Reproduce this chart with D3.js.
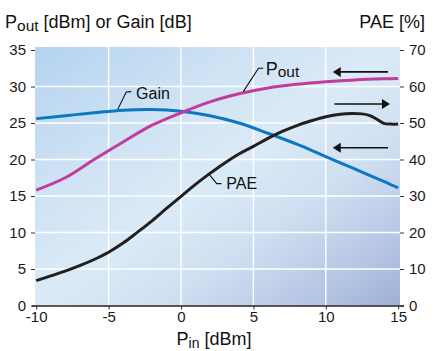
<!DOCTYPE html>
<html><head><meta charset="utf-8">
<script src="https://cdn.jsdelivr.net/npm/d3@7"></script>
<style>
html,body{margin:0;padding:0;background:#fff;}
svg{display:block;font-family:"Liberation Sans",Arial,Helvetica,sans-serif;}
</style></head>
<body>
<svg id="c" width="438" height="351"></svg>
<script>
// ---- data ----
const xTicks = [-10, -5, 0, 5, 10, 15];
const yLeftTicks = [0, 5, 10, 15, 20, 25, 30, 35];
const yRightTicks = [0, 10, 20, 30, 40, 50, 60, 70];
const gainX = [-10, -8, -6, -4, -2, 0, 2, 4, 6, 8, 10, 12, 14, 15];
const gainY = [25.6, 26.0, 26.4, 26.75, 26.85, 26.6, 26.0, 25.0, 23.6, 22.1, 20.4, 18.7, 17.0, 16.1];
const poutX = [-10, -8, -6, -4, -2, 0, 2, 4, 6, 8, 10, 12, 14, 15];
const poutY = [15.8, 17.5, 20.0, 22.4, 24.7, 26.4, 27.9, 29.0, 29.8, 30.3, 30.65, 30.9, 31.05, 31.1];
const paeX = [-10, -9, -8, -7, -6, -5, -4, -3, -2, -1, 0, 1, 2, 3, 4, 5, 6, 7, 8, 9, 10, 11, 11.8, 12.5, 13, 13.5, 14, 14.5, 15];
const paeY = [6.8, 8.1, 9.4, 10.9, 12.6, 14.6, 17.1, 20.1, 23.2, 26.6, 29.9, 33.2, 36.2, 39.0, 41.5, 43.6, 45.8, 47.7, 49.3, 50.6, 51.7, 52.4, 52.6, 52.5, 52.1, 51.1, 49.9, 49.7, 49.7];

const svg = d3.select('#c');
const x = d3.scaleLinear().domain([-10, 15]).range([36.2, 398.2]);
const yL = d3.scaleLinear().domain([0, 35]).range([305.5, 50]);
const yR = d3.scaleLinear().domain([0, 70]).range([305.5, 50]);

const pLeft = x(-10) - 1.2, pRight = x(15) + 1.8, pTop = yL(35) - 3, pBottom = yL(0);

// gradient background
const defs = svg.append('defs');
const g = defs.append('linearGradient').attr('id', 'bg')
  .attr('x1', '0%').attr('y1', '0%').attr('x2', '100%').attr('y2', '100%');
[[0, '#b4d3ef'], [0.3, '#cfe3f4'], [0.5, '#dbeaf7'], [0.68, '#cedff1'], [0.85, '#b8c8e5'], [1, '#9fb0d6']]
  .forEach(([o, c]) => g.append('stop').attr('offset', o).attr('stop-color', c));
svg.append('rect').attr('x', pLeft).attr('y', pTop).attr('width', pRight - pLeft).attr('height', pBottom - pTop)
  .attr('fill', 'url(#bg)');

// grid
svg.append('g').selectAll('line').data(yLeftTicks.filter(d => d > 0 && d < 35)).join('line')
  .attr('x1', pLeft).attr('x2', pRight).attr('y1', d => yL(d)).attr('y2', d => yL(d))
  .attr('stroke', '#fff').attr('stroke-width', 1.4);
svg.append('g').selectAll('line').data(xTicks.filter(d => d > -10 && d < 15)).join('line')
  .attr('y1', pTop).attr('y2', pBottom).attr('x1', d => x(d)).attr('x2', d => x(d))
  .attr('stroke', '#fff').attr('stroke-width', 1.4);

// axes
const axB = svg.append('g').attr('transform', `translate(0,${pBottom})`)
  .call(d3.axisBottom(x).tickValues(xTicks).tickSize(4).tickPadding(2).tickSizeOuter(0));
const axL = svg.append('g').attr('transform', `translate(${pLeft},0)`)
  .call(d3.axisLeft(yL).tickValues(yLeftTicks).tickSize(4).tickPadding(5).tickSizeOuter(0));
const axR = svg.append('g').attr('transform', `translate(${pRight},0)`)
  .call(d3.axisRight(yR).tickValues(yRightTicks).tickSize(4).tickPadding(5).tickSizeOuter(0));
axL.select('.domain').remove();
axR.select('.domain').remove();
axB.select('.domain').attr('d', `M${pLeft - 3},0.5H${pRight + 4}`).attr('stroke', '#222').attr('stroke-width', 1.3);
[axB, axL, axR].forEach(a => {
  a.selectAll('text').attr('font-size', 15).attr('fill', '#1a1a1a')
    .attr('font-family', '"Liberation Sans",Arial,sans-serif');
  a.selectAll('.tick line').attr('stroke', '#333');
});
axB.selectAll('text').text(d => d < 0 ? '-' + Math.abs(d) : d);

// lines
const line = (xs, ys, sy) => d3.line().x(i => x(xs[i])).y(i => sy(ys[i])).curve(d3.curveCatmullRom.alpha(0.5))(d3.range(xs.length));
svg.append('path').attr('d', line(gainX, gainY, yL)).attr('fill', 'none').attr('stroke', '#0b78c1').attr('stroke-width', 3);
svg.append('path').attr('d', line(poutX, poutY, yL)).attr('fill', 'none').attr('stroke', '#c13c9c').attr('stroke-width', 3);
svg.append('path').attr('d', line(paeX, paeY, yR)).attr('fill', 'none').attr('stroke', '#231f20').attr('stroke-width', 3);

// arrows (data coords: x from, x to, y left units)
const arrows = [
  {x1: 14.3, x2: 10.48, y: 32.0},
  {x1: 10.6, x2: 14.43, y: 27.6},
  {x1: 14.3, x2: 10.48, y: 21.6}
];
arrows.forEach(a => {
  const X1 = x(a.x1), X2 = x(a.x2), Y = yL(a.y);
  const dir = Math.sign(X2 - X1);
  svg.append('line').attr('x1', X1).attr('x2', X2 - dir * 6).attr('y1', Y).attr('y2', Y)
    .attr('stroke', '#111').attr('stroke-width', 1.6);
  svg.append('path').attr('d', `M${X2},${Y}L${X2 - dir * 8},${Y - 5}L${X2 - dir * 8},${Y + 5}Z`).attr('fill', '#111');
});

// leader labels
const leader = (pts) => svg.append('path')
  .attr('d', d3.line()(pts.map(p => [x(p[0]), yL(p[1])]))).attr('fill', 'none').attr('stroke', '#111').attr('stroke-width', 1.1);
leader([[-4.36, 26.9], [-3.78, 29.25], [-3.43, 29.3]]);
leader([[4.3, 29.3], [5.35, 32.5], [5.68, 32.5]]);
leader([[1.89, 18.1], [2.47, 16.7], [2.8, 16.7]]);

const lbl = svg.append('g').attr('fill', '#111').attr('font-size', 16);
lbl.append('text').attr('x', x(-3.1)).attr('y', yL(28.3)).text('Gain');
lbl.append('text').attr('x', x(3.13)).attr('y', yL(15.95)).text('PAE');
const pt = lbl.append('text').attr('x', x(5.85)).attr('y', yL(31.6)).attr('font-size', 18);
pt.append('tspan').text('P');
pt.append('tspan').attr('font-size', 15.5).attr('dy', 2).text('out');

// titles
const t1 = svg.append('text').attr('x', 5).attr('y', 28).attr('font-size', 18).attr('fill', '#111');
t1.append('tspan').text('P');
t1.append('tspan').attr('font-size', 15.5).attr('dy', 2.5).text('out');
t1.append('tspan').attr('dy', -2.5).text(' [dBm] or Gain [dB]');
svg.append('text').attr('x', 425).attr('y', 28).attr('text-anchor', 'end').attr('font-size', 18).attr('fill', '#111').text('PAE [%]');
const t3 = svg.append('text').attr('x', 176.5).attr('y', 345).attr('font-size', 18).attr('fill', '#111');
t3.append('tspan').text('P');
t3.append('tspan').attr('font-size', 14).attr('dy', 2.5).text('in');
t3.append('tspan').attr('dy', -2.5).text(' [dBm]');
</script>
</body></html>
